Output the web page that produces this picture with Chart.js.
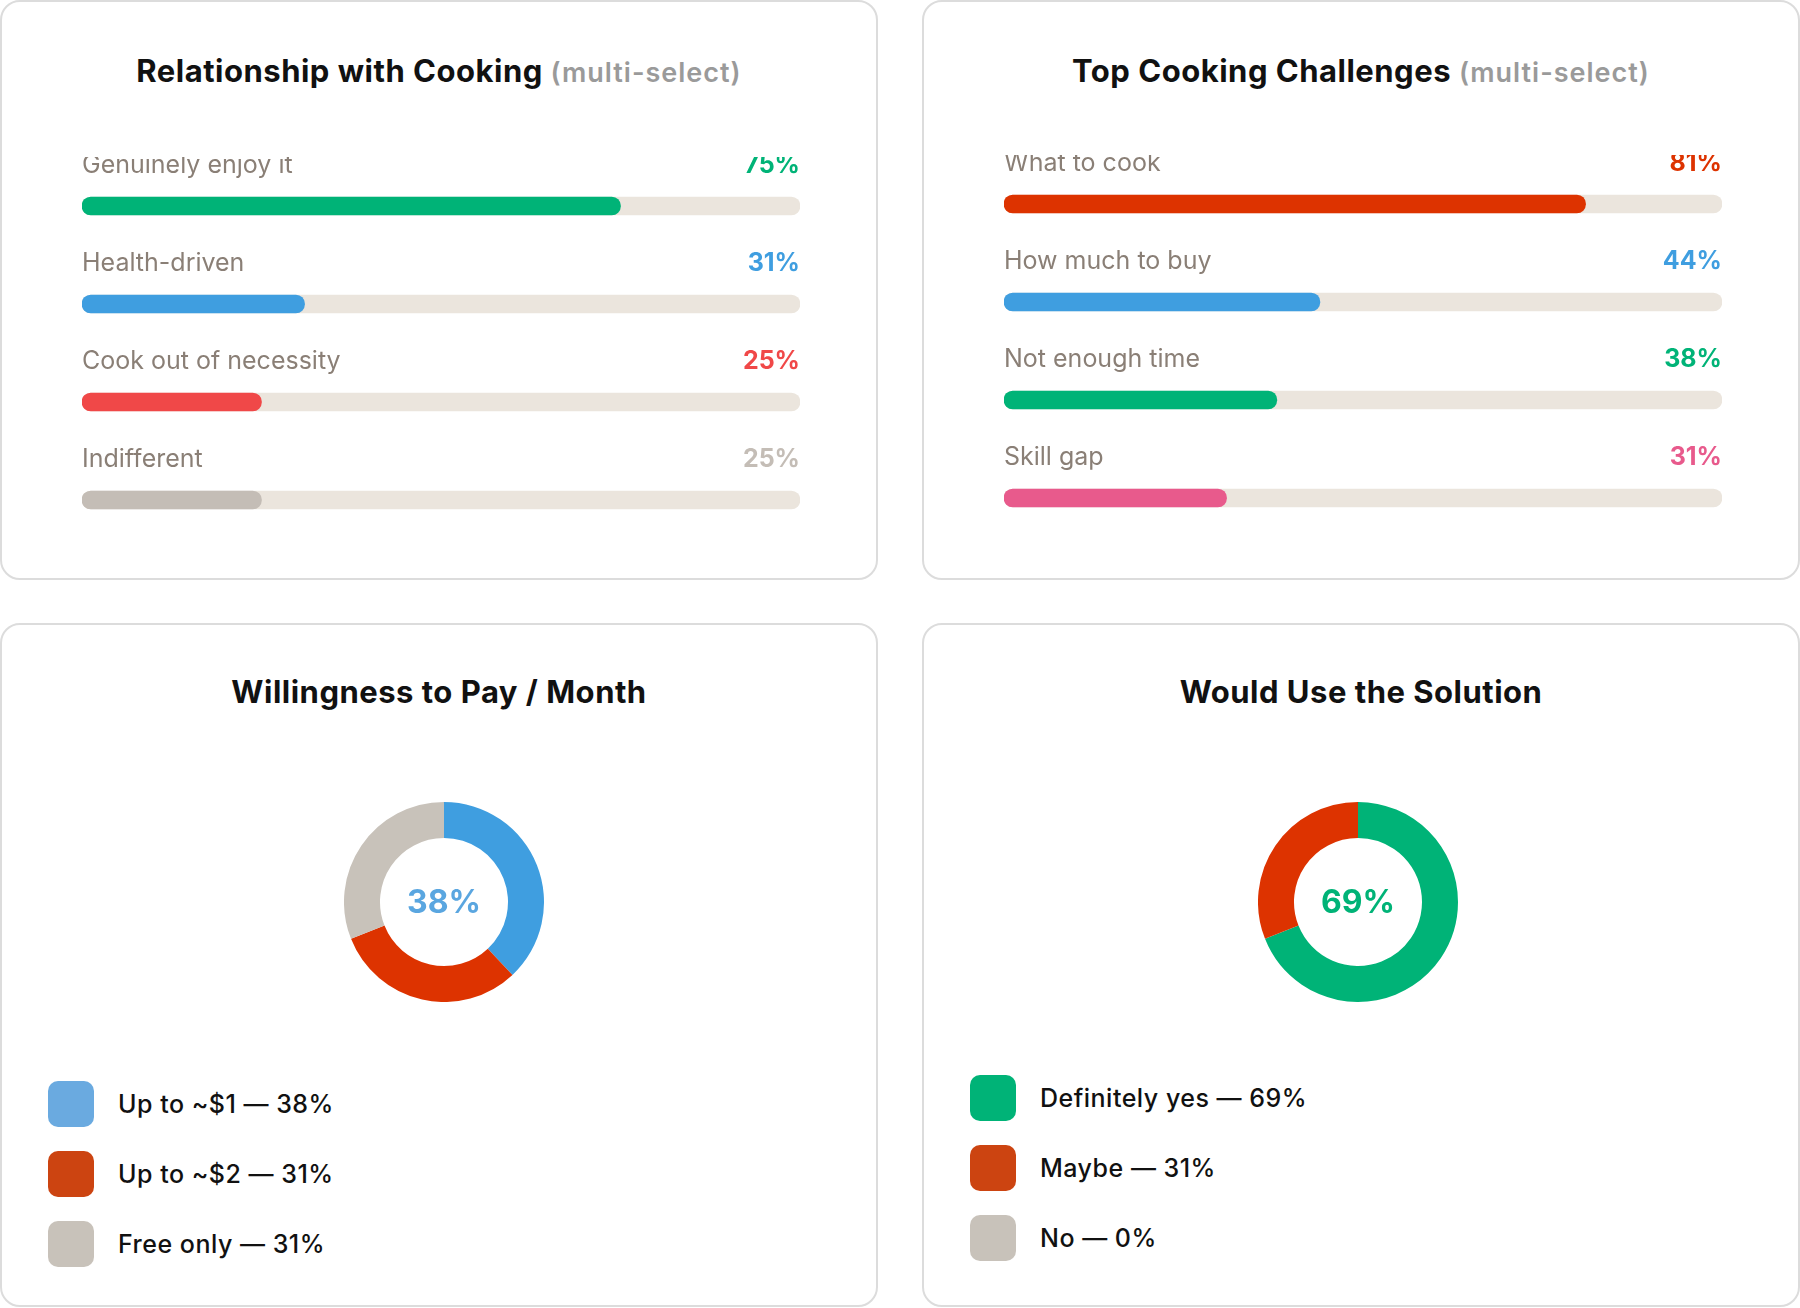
<!DOCTYPE html>
<html><head><meta charset="utf-8">
<script src="https://cdn.jsdelivr.net/npm/chart.js@4"></script>
<style>
body{margin:0;background:#fff;font-family:Inter,"Noto Sans",sans-serif;width:1800px;height:1308px;position:relative;overflow:hidden}
.card{position:absolute;background:#fff;border:2px solid #dcdcdc;border-radius:20px;box-sizing:border-box}
.title{position:absolute;left:0;right:0;text-align:center;font-weight:700;font-size:31px;color:#111;letter-spacing:0.5px}
.title span{color:#9a9a9a;font-weight:600;font-size:27px;letter-spacing:1px}
canvas{position:absolute}
.legend{position:absolute;left:46px}
.row{display:flex;align-items:center;height:46px;margin-bottom:24px;font-size:25px;font-weight:500;color:#111;letter-spacing:0.5px}
.sw{width:46px;height:46px;border-radius:10px;margin-right:24px}
</style></head><body>
<div class="card" style="left:0;top:0;width:878px;height:580px">
  <div class="title" style="top:50px">Relationship with Cooking <span>(multi-select)</span></div>
  <div style="position:absolute;left:0;top:155px;width:878px;height:392px"><canvas id="relChart"></canvas></div>
</div>
<div class="card" style="left:922px;top:0;width:878px;height:580px">
  <div class="title" style="top:50px">Top Cooking Challenges <span>(multi-select)</span></div>
  <div style="position:absolute;left:0;top:153px;width:878px;height:392px"><canvas id="chalChart"></canvas></div>
</div>
<div class="card" style="left:0;top:623px;width:878px;height:684px">
  <div class="title" style="top:48px">Willingness to Pay / Month</div>
  <div style="position:absolute;left:342px;top:177px;width:200px;height:200px"><canvas id="payChart"></canvas></div>
  <div class="legend" id="payLegend" style="top:456px"></div>
</div>
<div class="card" style="left:922px;top:623px;width:878px;height:684px">
  <div class="title" style="top:48px">Would Use the Solution</div>
  <div style="position:absolute;left:334px;top:177px;width:200px;height:200px"><canvas id="useChart"></canvas></div>
  <div class="legend" id="useLegend" style="top:450px"></div>
</div>
<script>
// Relationship with cooking
const relLabels = ['Genuinely enjoy it', 'Health-driven', 'Cook out of necessity', 'Indifferent'];
const relValues = [75, 31, 25, 25];
const relColors = ['#00b377', '#3f9ee0', '#f04848', '#c4bdb6'];

// Challenges
const chalLabels = ['What to cook', 'How much to buy', 'Not enough time', 'Skill gap'];
const chalValues = [81, 44, 38, 31];
const chalColors = ['#dd3300', '#3f9ee0', '#00b377', '#e85a8c'];

// Willingness to pay
const payLabels = ['Up to ~$1', 'Up to ~$2', 'Free only'];
const payValues = [38, 31, 31];
const payColors = ['#3f9ee0', '#dd3300', '#c8c2ba'];
const paySwatch = ['#6aaae0', '#cc4411', '#c8c2ba'];

// Would use
const useLabels = ['Definitely yes', 'Maybe', 'No'];
const useValues = [69, 31, 0];
const useColors = ['#00b377', '#dd3300', '#c8c2ba'];
const useSwatch = ['#00b377', '#cc4411', '#c8c2ba'];

const barLabelPlugin = {
  id: 'barLabels',
  afterDatasetsDraw(chart) {
    const ctx = chart.ctx, area = chart.chartArea;
    const meta = chart.getDatasetMeta(0);
    const d = chart.data.datasets[0];
    ctx.save();
    ctx.textBaseline = 'middle';
    meta.data.forEach((bar, i) => {
      ctx.font = '400 25px Inter, sans-serif';
      ctx.fillStyle = '#8a7f76';
      ctx.textAlign = 'left';
      ctx.fillText(chart.data.labels[i], area.left, bar.y - 41);
      ctx.font = '700 25px Inter, sans-serif';
      ctx.fillStyle = d.backgroundColor[i];
      ctx.textAlign = 'right';
      ctx.fillText(d.data[i] + '%', area.right, bar.y - 41);
    });
    ctx.restore();
  }
};

function barChart(id, labels, values, colors) {
  new Chart(document.getElementById(id), {
    type: 'bar',
    data: {
      labels: labels,
      datasets: [
        { data: values, backgroundColor: colors, barThickness: 18, borderRadius: 9, borderSkipped: false, grouped: false, order: 0 },
        { data: labels.map(() => 100), backgroundColor: '#ebe5dd', barThickness: 18, borderRadius: 9, borderSkipped: false, grouped: false, order: 1 }
      ]
    },
    options: {
      indexAxis: 'y', responsive: true, maintainAspectRatio: false, animation: false,
      layout: { padding: { left: 80, right: 80, top: 0, bottom: 0 } },
      plugins: { legend: { display: false }, tooltip: { enabled: false } },
      scales: {
        x: { min: 0, max: 100, display: false },
        y: { display: false }
      }
    },
    plugins: [barLabelPlugin]
  });
}

function centerText(color) {
  return {
    id: 'center',
    afterDraw(chart) {
      const ctx = chart.ctx, a = chart.chartArea;
      ctx.save();
      ctx.font = '700 32px Inter, sans-serif';
      ctx.fillStyle = color;
      ctx.textAlign = 'center';
      ctx.textBaseline = 'middle';
      ctx.fillText(chart.data.datasets[0].data[0] + '%', (a.left + a.right) / 2, (a.top + a.bottom) / 2 + 1);
      ctx.restore();
    }
  };
}

function donut(id, labels, values, colors, textColor) {
  new Chart(document.getElementById(id), {
    type: 'doughnut',
    data: { labels: labels, datasets: [{ data: values, backgroundColor: colors, borderWidth: 0 }] },
    options: {
      responsive: true, maintainAspectRatio: false, animation: false, cutout: '64%',
      plugins: { legend: { display: false }, tooltip: { enabled: false } }
    },
    plugins: [centerText(textColor)]
  });
}

function legend(id, labels, values, colors) {
  document.getElementById(id).innerHTML = labels.map((l, i) =>
    '<div class="row"><div class="sw" style="background:' + colors[i] + '"></div>' + l + ' \u2014 ' + values[i] + '%</div>').join('');
}

barChart('relChart', relLabels, relValues, relColors);
barChart('chalChart', chalLabels, chalValues, chalColors);
donut('payChart', payLabels, payValues, payColors, '#5aa6e0');
donut('useChart', useLabels, useValues, useColors, '#00b377');
legend('payLegend', payLabels, payValues, paySwatch);
legend('useLegend', useLabels, useValues, useSwatch);
</script>
</body></html>
